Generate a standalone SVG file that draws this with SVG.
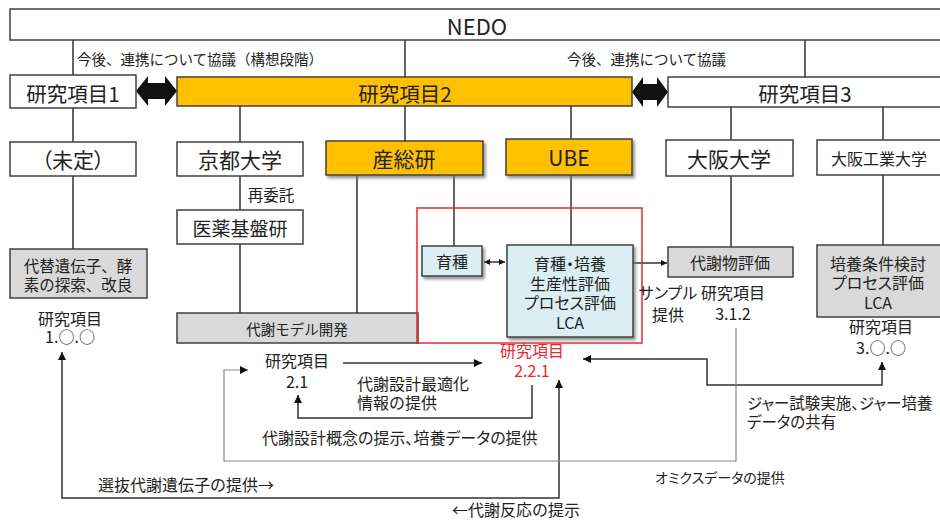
<svg xmlns="http://www.w3.org/2000/svg" width="940" height="520" viewBox="0 0 940 520">
<style>
text{font-family:"Noto Sans CJK JP","Noto Sans",sans-serif;fill:#222;dominant-baseline:central}
.p{font-feature-settings:"palt"}
.c{text-anchor:middle}
.box{stroke:#404040;stroke-width:1.5}
.w{fill:#fff}
.o{fill:#FFC000}
.g{fill:#D9D9D9}
.b{fill:#DAEEF3}
.ln{fill:none;stroke:#333;stroke-width:1.5}
.gl{fill:none;stroke:#888;stroke-width:1.2}
.red{fill:#E8282E}
.f21{font-size:21px}
.f20{font-size:20.5px}
.f16{font-size:16px}
.f15{font-size:15.5px}
.f14{font-size:14.5px}
</style>
<defs>
<filter id="sh" x="-10%" y="-10%" width="130%" height="140%">
<feDropShadow dx="2" dy="2.5" stdDeviation="1.5" flood-color="#777" flood-opacity="0.8"/>
</filter>
<marker id="ah" viewBox="0 0 10 10" refX="10" refY="5" markerWidth="9" markerHeight="8" markerUnits="userSpaceOnUse" orient="auto-start-reverse">
<path d="M0,0 L10,5 L0,10 z" fill="#111"/>
</marker>
<marker id="ahs" viewBox="0 0 10 10" refX="10" refY="5" markerWidth="7" markerHeight="6" markerUnits="userSpaceOnUse" orient="auto-start-reverse">
<path d="M0,0 L10,5 L0,10 z" fill="#111"/>
</marker>
</defs>

<g id="connectors">
<path class="ln" d="M73,40V75M405,40V77M805,40V77"/>
<path class="ln" d="M73,108V142M240,106V142M405,106V141M571,106V139M731,107V140M883,107V140"/>
<path class="ln" d="M73,176V249M240,176V210M240,244V313M357,175V313M454,175V246M571,175V245M731,176V247M883,175V245"/>
<path d="M136,91 L148,76 L148,83 L165,83 L165,76 L177,91 L165,106 L165,99 L148,99 L148,106 z" fill="#111"/>
<path d="M632,92 L643,77 L643,84 L657,84 L657,77 L668,92 L657,107 L657,100 L643,100 L643,107 z" fill="#111"/>
<path class="ln" d="M484,262H505" marker-start="url(#ahs)" marker-end="url(#ahs)"/>
<path class="ln" d="M633,263H667" marker-end="url(#ahs)"/>
<path class="ln" d="M343,363H482" marker-end="url(#ah)"/>
<path class="ln" d="M532,385V418H298V395" marker-end="url(#ah)"/>
<path class="ln" d="M882,362V385H707V359H583" marker-start="url(#ah)" marker-end="url(#ah)"/>
<path class="ln" d="M62,352V498H559V380" marker-start="url(#ah)" marker-end="url(#ah)"/>
<path class="gl" d="M736,328V461H224V370H248" marker-end="url(#ah)"/>
</g>

<g id="nedo"><rect class="box w" x="10" y="9" width="940" height="31"/><text class="c" x="477" y="25" font-size="22">NEDO</text></g>
<g id="label-top1"><text class="f14" x="77" y="58">今後、連携について協議（構想段階）</text></g>
<g id="label-top2"><text class="f14" x="567" y="58">今後、連携について協議</text></g>

<g id="item1"><rect class="box w" x="10" y="75" width="126" height="33"/><text class="c f20" x="73" y="93">研究項目1</text></g>
<g id="item2"><rect class="box o" x="177" y="77" width="455" height="29"/><text class="c f20" x="405" y="93">研究項目2</text></g>
<g id="item3"><rect class="box w" x="668" y="77" width="280" height="30"/><text class="c f20" x="805" y="93">研究項目3</text></g>

<g id="mitei"><rect class="box w" x="10" y="142" width="126" height="34"/><text class="c f21 p" x="73" y="159">（未定）</text></g>
<g id="kyoto"><rect class="box w" x="177" y="142" width="126" height="34"/><text class="c f21" x="240" y="159">京都大学</text></g>
<g id="aist"><rect class="box o" x="326" y="141" width="157" height="34" filter="url(#sh)"/><text class="c f21" x="404" y="158">産総研</text></g>
<g id="ube"><rect class="box o" x="506" y="139" width="126" height="36" filter="url(#sh)"/><text class="c f21" x="569" y="157">UBE</text></g>
<g id="osaka"><rect class="box w" x="666" y="140" width="127" height="36"/><text class="c f21" x="729" y="158">大阪大学</text></g>
<g id="oit"><rect class="box w" x="817" y="140" width="130" height="35"/><text class="c f16" x="879" y="158">大阪工業大学</text></g>

<g id="label-saiitaku"><text class="c f15" x="271" y="194">再委託</text></g>
<g id="nibiohn"><rect class="box w" x="177" y="210" width="126" height="34"/><text class="c" font-size="19" x="240" y="227">医薬基盤研</text></g>

<g id="daitai"><rect class="box g" x="10" y="249" width="137" height="49"/><text class="c f15" x="78" y="265">代替遺伝子、酵</text><text class="c f15" x="78" y="284">素の探索、改良</text></g>
<g id="label-100"><text class="c f16" x="70" y="318">研究項目</text><text class="c f16" x="70" y="336">1.○.○</text></g>

<g id="model"><rect class="box g" x="177" y="313" width="241" height="30"/><text class="c f14" x="297" y="328">代謝モデル開発</text></g>

<g id="redframe"><rect x="417" y="208" width="225" height="135" fill="none" stroke="#E8282E" stroke-width="1.5"/></g>
<g id="ikushu"><rect class="box b" x="422" y="246" width="60" height="30" filter="url(#sh)"/><text class="c f16" x="452" y="261">育種</text></g>
<g id="ube-task"><rect class="box b" x="507" y="245" width="126" height="92" filter="url(#sh)"/>
<text class="c f16 p" x="570" y="263">育種・培養</text><text class="c f16" x="570" y="283">生産性評価</text><text class="c f16 p" x="570" y="302">プロセス評価</text><text class="c f16" x="570" y="322">LCA</text></g>

<g id="taisha"><rect class="box g" x="668" y="247" width="125" height="30"/><text class="c f16" x="730" y="262">代謝物評価</text></g>
<g id="baiyou"><rect class="box g" x="817" y="245" width="130" height="72"/><text class="c f16" x="878" y="263">培養条件検討</text><text class="c f16 p" x="878" y="282">プロセス評価</text><text class="c f16" x="878" y="302">LCA</text></g>

<g id="label-sample"><text class="c f16 p" x="668" y="292">サンプル</text><text class="c f16" x="668" y="314">提供</text></g>
<g id="label-312"><text class="c f16" x="733" y="292">研究項目</text><text class="c f16" x="733" y="313">3.1.2</text></g>
<g id="label-300"><text class="c f16" x="881" y="326">研究項目</text><text class="c f16" x="881" y="347">3.○.○</text></g>

<g id="label-21"><text class="c f16" x="297" y="360">研究項目</text><text class="c f16" x="297" y="381">2.1</text></g>
<g id="label-221"><text class="c f16 red" x="532" y="350">研究項目</text><text class="c f16 red" x="532" y="370">2.2.1</text></g>

<g id="label-opt"><text class="f16" x="357" y="383">代謝設計最適化</text><text class="f16" x="357" y="402">情報の提供</text></g>
<g id="label-concept"><text class="f16 p" x="262" y="437">代謝設計概念の提示、培養データの提供</text></g>
<g id="label-jar"><text class="f15 p" x="747" y="402">ジャー試験実施、ジャー培養</text><text class="f15 p" x="747" y="421">データの共有</text></g>
<g id="label-omics"><text class="p" font-size="14" x="655" y="477">オミクスデータの提供</text></g>
<g id="label-senbatsu"><text class="f16" x="98" y="484">選抜代謝遺伝子の提供→</text></g>
<g id="label-hannou"><text class="f16" x="452" y="509">←代謝反応の提示</text></g>
</svg>
